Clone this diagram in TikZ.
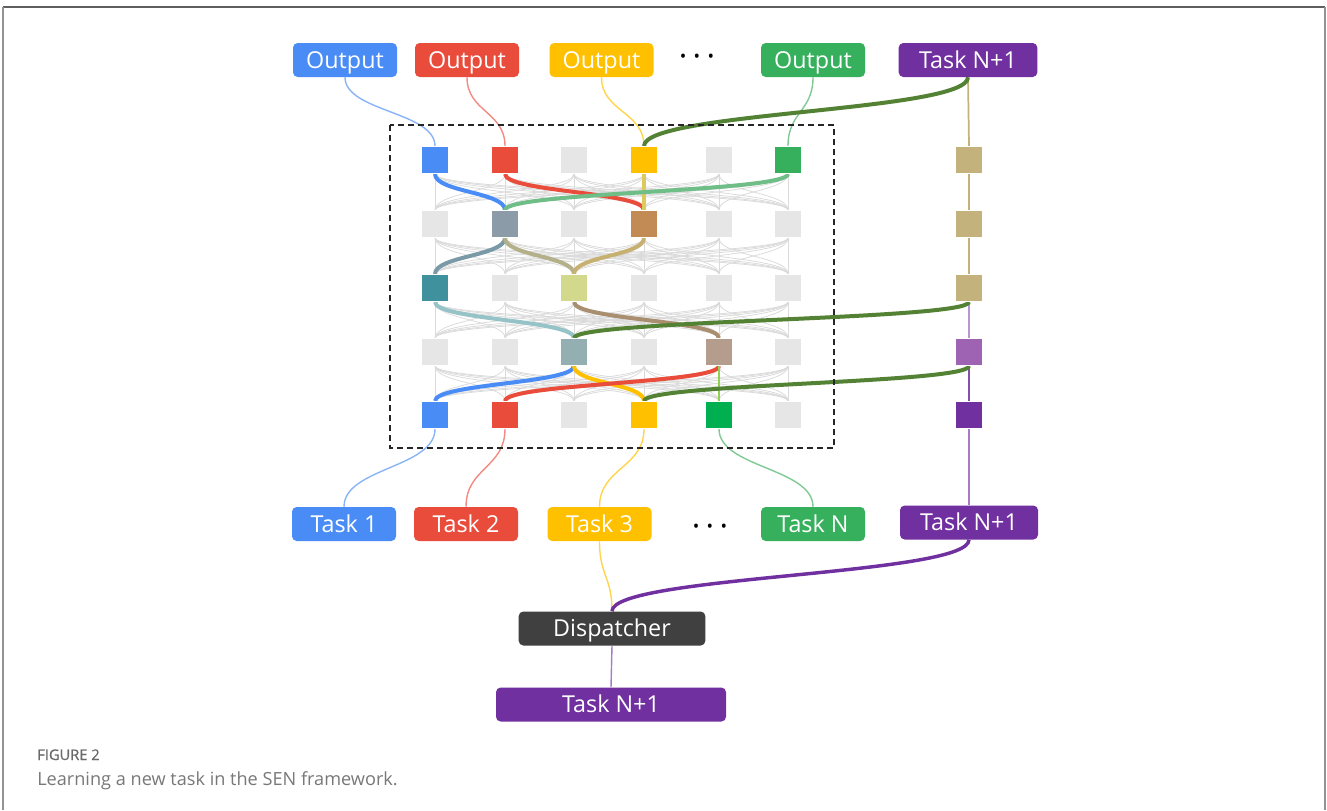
\documentclass[tikz,border=0pt]{standalone}
\usepackage{fontspec}
\setmainfont{Open Sans}
\newfontfamily\capfont{Open Sans}[FakeBold=0.7]
\usetikzlibrary{calc}

% node fills
\definecolor{cBlue}{HTML}{4A8CF6}
\definecolor{cRed}{HTML}{EA4C3C}
\definecolor{cYellow}{HTML}{FFC000}
\definecolor{cGreen}{HTML}{36B05C}
\definecolor{cGreenB}{HTML}{00B050}
\definecolor{cPurple}{HTML}{7030A0}
\definecolor{cPurpleL}{HTML}{9E63B3}
\definecolor{cTan}{HTML}{C4B27C}
\definecolor{cDark}{HTML}{404040}
\definecolor{cMoss}{HTML}{548235}
\definecolor{cCell}{HTML}{E6E6E6}
\definecolor{cFan}{HTML}{DADADA}
\definecolor{cSlate}{HTML}{8C9BA8}
\definecolor{cBrown}{HTML}{C28B55}
\definecolor{cTeal}{HTML}{3F919D}
\definecolor{cLime}{HTML}{D3D98C}
\definecolor{cSage}{HTML}{93AFB1}
\definecolor{cTaupe}{HTML}{B59D8D}
% thin connector colours
\definecolor{tBlue}{HTML}{8AB4F8}
\definecolor{tRed}{HTML}{F28B82}
\definecolor{tYellow}{HTML}{FFD54F}
\definecolor{tGreen}{HTML}{81C995}
\definecolor{tPurple}{HTML}{A77BC9}
\definecolor{tPurpleL}{HTML}{B895D6}
% thick path colours
\definecolor{kYellow}{HTML}{DCCB5C}
\definecolor{kGreen}{HTML}{6FBE88}
\definecolor{kSlate}{HTML}{7B9AA7}
\definecolor{kOlive}{HTML}{B3B08A}
\definecolor{kGold}{HTML}{C7B172}
\definecolor{kAqua}{HTML}{95C3C7}
\definecolor{kBrown}{HTML}{A98E70}
\definecolor{kLime}{HTML}{92D050}
% caption
\definecolor{capA}{HTML}{6A6A6A}
\definecolor{capB}{HTML}{787878}

\pgfdeclarelayer{paper}
\pgfdeclarelayer{links}
\pgfsetlayers{paper,links,main}

% vertical S-shaped connector between two nodes
\newcommand{\vlink}[3][]{%
  \path (#2.south) coordinate (vlA) (#3.north) coordinate (vlB);
  \path ($(vlA)!0.5!(vlB)$) coordinate (vlM);
  \draw[#1] (vlA) .. controls (vlA |- vlM) and (vlB |- vlM) .. (vlB);}

% fills of the coloured cells of the grid
\newcommand{\setcell}[2]{\expandafter\def\csname cc#1\endcsname{#2}}
\setcell{11}{cBlue}\setcell{12}{cRed}\setcell{14}{cYellow}\setcell{16}{cGreen}
\setcell{22}{cSlate}\setcell{24}{cBrown}
\setcell{31}{cTeal}\setcell{33}{cLime}
\setcell{43}{cSage}\setcell{45}{cTaupe}
\setcell{51}{cBlue}\setcell{52}{cRed}\setcell{54}{cYellow}\setcell{55}{cGreenB}

\begin{document}
\begin{tikzpicture}[x=0.75pt,y=-0.75pt,
  lbl/.style={rectangle, rounded corners=3.5pt, text=white, inner sep=0pt,
    minimum height=25.5pt, minimum width=78pt, text height=12.3pt, text depth=0pt,
    font=\fontsize{17.5}{20}\selectfont},
  cell/.style={rectangle, minimum size=20.5pt, inner sep=0pt, draw=white, line width=0.4pt},
  fan/.style={cFan, line width=0.55pt},
  thinl/.style={line width=1.05pt},
  thick/.style={line width=3pt},
  dotrow/.style={font=\fontsize{13}{13}\selectfont, inner sep=0pt, anchor=base}]

\useasboundingbox (0,0) rectangle (1327,810);
\begin{pgfonlayer}{paper}
  \fill[white] (0,0) rectangle (1327,810);
\end{pgfonlayer}

% outer frame
\draw[color=capA!90!black, line width=1.6pt] (3,7) -- (1325,7);
\draw[color=gray!85, line width=1.6pt] (3,7) -- (3,810);
\draw[color=gray!85, line width=1.6pt] (1325,7) -- (1325,810);

% output labels
\node[lbl, fill=cBlue]   (o1) at (345,60) {Output};
\node[lbl, fill=cRed]    (o2) at (467,60) {Output};
\node[lbl, fill=cYellow] (o3) at (601.5,60) {Output};
\node[dotrow] (dtop) at (697,62.7) {•\hspace{5.6pt}•\hspace{5.6pt}•};
\node[lbl, fill=cGreen]  (o4) at (813,60) {Output};
\node[lbl, fill=cPurple, minimum width=104pt] (tn) at (968,60) {Task N+1};

% grid of modules
\foreach \r/\y in {1/160,2/224,3/288,4/352,5/415}{
  \foreach \c/\x in {1/435,2/505,3/574,4/644,5/719,6/788}{
    \ifcsname cc\r\c\endcsname
      \edef\cellfill{\csname cc\r\c\endcsname}%
    \else
      \def\cellfill{cCell}%
    \fi
    \node[cell, fill=\cellfill] (g\r\c) at (\x,\y) {};
  }
}

% column of the new task
\node[cell, fill=cTan]     (q1) at (969,160) {};
\node[cell, fill=cTan]     (q2) at (969,224) {};
\node[cell, fill=cTan]     (q3) at (969,288) {};
\node[cell, fill=cPurpleL] (q4) at (969,352) {};
\node[cell, fill=cPurple]  (q5) at (969,415) {};

% dashed frame round the grid
\draw[color=black!85, line width=1.5pt, dash pattern=on 4.5pt off 3pt] (390,125) rectangle (834,448);

% task labels
\node[lbl, fill=cBlue]   (t1) at (344,524) {Task 1};
\node[lbl, fill=cRed]    (t2) at (466,524) {Task 2};
\node[lbl, fill=cYellow] (t3) at (599.5,524) {Task 3};
\node[dotrow] (dbot) at (710,532.7) {•\hspace{5.6pt}•\hspace{5.6pt}•};
\node[lbl, fill=cGreen]  (tN) at (813,524) {Task N};
\node[lbl, fill=cPurple, minimum width=103.5pt] (tn2) at (969,522.5) {Task N+1};

\node[lbl, fill=cDark, minimum width=140pt] (disp) at (612,628.5) {Dispatcher};
\node[lbl, fill=cPurple, minimum width=172.5pt] (tfin) at (611,704.5) {Task N+1};

% caption
\node[anchor=base west, inner sep=0pt, text=capA, font=\capfont\fontsize{11}{12}\selectfont] (fig) at (37,760) {FIGURE 2};
\node[anchor=base west, inner sep=0pt, text=capB, font=\fontsize{13.6}{15}\selectfont] (cap) at (37,785) {Learning a new task in the SEN framework.};

\begin{pgfonlayer}{links}
  % dense connections between neighbouring rows
  \foreach \r [evaluate=\r as \rn using int(\r+1)] in {1,...,4}{
    \foreach \i in {1,...,6}{
      \foreach \j in {1,...,6}{
        \vlink[fan]{g\r\i}{g\rn\j}
      }
    }
  }

  % outputs to the top row
  \vlink[thinl, tBlue]{o1}{g11}
  \vlink[thinl, tRed]{o2}{g12}
  \vlink[thinl, tYellow]{o3}{g14}
  \vlink[thinl, tGreen]{o4}{g16}

  % active paths through the grid
  \vlink[thick, cBlue]{g11}{g22}
  \vlink[thick, cRed]{g12}{g24}
  \vlink[thick, kYellow]{g14}{g24}
  \vlink[thick, kGreen]{g16}{g22}
  \vlink[thick, kSlate]{g22}{g31}
  \vlink[thick, kOlive]{g22}{g33}
  \vlink[thick, kGold]{g24}{g33}
  \vlink[thick, kAqua]{g31}{g43}
  \vlink[thick, kBrown]{g33}{g45}
  \vlink[thick, cBlue]{g43}{g51}
  \vlink[thick, cYellow]{g43}{g54}
  \vlink[thick, cRed]{g45}{g52}
  \vlink[line width=1.6pt, kLime]{g45}{g55}

  % bottom row to tasks
  \vlink[thinl, tBlue]{g51}{t1}
  \vlink[thinl, tRed]{g52}{t2}
  \vlink[thinl, tYellow]{g54}{t3}
  \vlink[thinl, tGreen]{g55}{tN}

  % column of the new task
  \draw[line width=1.3pt, cTan] (tn.south) -- (q1.north);
  \draw[line width=1.3pt, cTan] (q1.south) -- (q2.north);
  \draw[line width=1.3pt, cTan] (q2.south) -- (q3.north);
  \draw[line width=1.3pt, tPurpleL] (q3.south) -- (q4.north);
  \draw[line width=1.5pt, cPurple!85] (q4.south) -- (q5.north);
  \draw[thinl, tPurple] (q5.south) -- (tn2.north);

  % reused modules
  \vlink[thick, cMoss]{tn}{g14}
  \vlink[thick, cMoss]{q3}{g43}
  \vlink[thick, cMoss]{q4}{g54}

  % dispatcher
  \vlink[thinl, tYellow]{t3}{disp}
  \vlink[line width=2.6pt, cPurple]{tn2}{disp}
  \draw[thinl, tPurple] (disp.south) -- (tfin.north);
\end{pgfonlayer}
\end{tikzpicture}
\end{document}
